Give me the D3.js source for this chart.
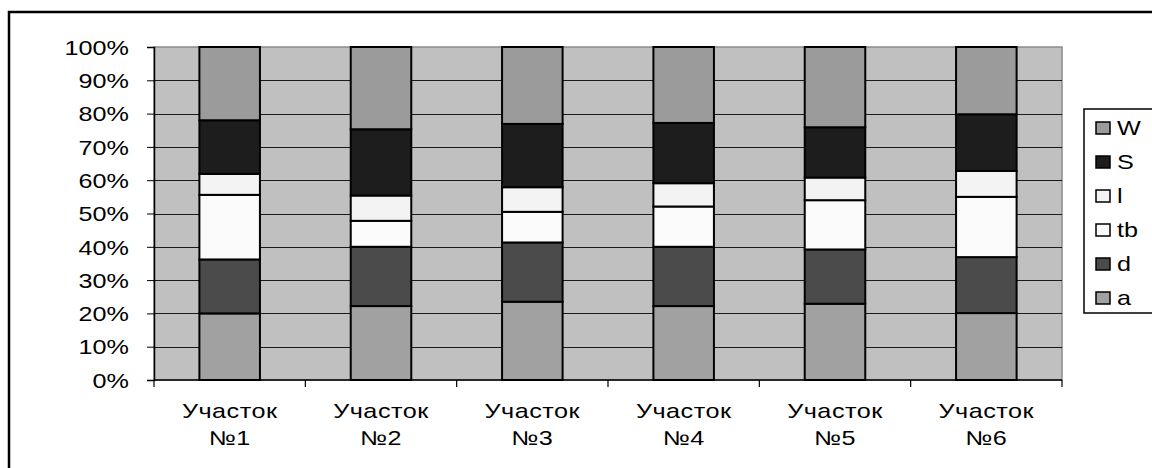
<!DOCTYPE html>
<html>
<head>
<meta charset="utf-8">
<title>Участки</title>
<style>
body { margin: 0; background: #fff; }
text { font-family: "Liberation Sans", Arial, sans-serif; fill: #000; }
</style>
<script type="text/javascript" src="https://d3js.org/d3.v7.min.js"></script>
</head>
<body>
<svg id="chart" width="1152" height="468"></svg>
<script type="text/javascript">
// data, in % of each bar
const sites = ["Участок\n№1", "Участок\n№2", "Участок\n№3", "Участок\n№4", "Участок\n№5", "Участок\n№6"];
const seriesNames = ["a", "d", "tb", "l", "S", "W"];
const a  = [20.0, 22.2, 23.5, 22.2, 22.9, 20.1];
const d  = [16.2, 17.8, 17.8, 17.8, 16.3, 16.8];
const tb = [19.4,  7.8,  9.2, 12.1, 14.8, 18.1];
const l  = [ 6.3,  7.6,  7.4,  7.0,  6.8,  7.8];
const S  = [16.1, 19.9, 19.0, 18.1, 15.1, 17.0];
const W  = [22.0, 24.7, 23.1, 22.8, 24.1, 20.2];
const yTicks = [0, 10, 20, 30, 40, 50, 60, 70, 80, 90, 100];

const colors = { a: "#a1a1a1", d: "#4b4b4b", tb: "#fbfbfb", l: "#f3f3f3", S: "#1d1d1d", W: "#9b9b9b" };
const SX = 1.26; // text in the picture is stretched sideways

const svg = d3.select("#chart");
const LEFT = 154, RIGHT = 1062, TOP = 47, BOTTOM = 380;

// outer frame
svg.append("rect").attr("x", 9).attr("y", 12).attr("width", 1160).attr("height", 480)
   .style("fill", "none").style("stroke", "#000").style("stroke-width", 2.5);

const table = sites.map((s, i) => ({ site: s, a: a[i], d: d[i], tb: tb[i], l: l[i], S: S[i], W: W[i] }));
const stacked = d3.stack().keys(seriesNames)(table);

const x = d3.scaleBand().domain(sites).range([LEFT, RIGHT]).padding(0);
const y = d3.scaleLinear().domain([0, 100]).range([BOTTOM, TOP]);
const barW = x.bandwidth() * 0.4;

// plot area
svg.append("rect").attr("x", LEFT).attr("y", TOP).attr("width", RIGHT - LEFT).attr("height", BOTTOM - TOP)
   .style("fill", "#c0c0c0").style("stroke", "#8a8a8a").style("stroke-width", 1.5);

svg.append("g").selectAll("line").data(yTicks.filter(t => t > 0 && t < 100)).join("line")
   .attr("x1", LEFT).attr("x2", RIGHT)
   .attr("y1", t => Math.round(y(t)) + 0.5).attr("y2", t => Math.round(y(t)) + 0.5)
   .style("stroke", "#1a1a1a").style("stroke-width", 1.1);

// bars
svg.append("g").selectAll("g").data(stacked).join("g")
   .style("fill", s => colors[s.key])
   .selectAll("rect").data(s => s).join("rect")
   .attr("x", p => x(p.data.site) + (x.bandwidth() - barW) / 2)
   .attr("width", barW)
   .attr("y", p => y(p[1]))
   .attr("height", p => y(p[0]) - y(p[1]))
   .style("stroke", "#000").style("stroke-width", 2);

// y axis
const yAxis = d3.axisLeft(y).tickValues(yTicks).tickSize(7).tickFormat(t => t + "%");
const gy = svg.append("g").attr("transform", `translate(${LEFT},0)`).call(yAxis);
gy.select(".domain").style("stroke", "#000").style("stroke-width", 1.5);
gy.selectAll(".tick line").style("stroke", "#000");
gy.selectAll(".tick text").remove();
gy.selectAll(".tick").append("g")
  .attr("transform", `translate(-25,0) scale(${SX},1)`)
  .append("text").attr("text-anchor", "end").attr("dy", "0.36em")
  .style("font-size", "20px").text(t => t + "%");

// x axis
const bounds = sites.map(s => x(s)).concat([RIGHT]);
svg.append("line").attr("x1", LEFT).attr("x2", RIGHT).attr("y1", BOTTOM).attr("y2", BOTTOM)
   .style("stroke", "#000").style("stroke-width", 1.5);
svg.append("g").selectAll("line").data(bounds).join("line")
   .attr("x1", b => b).attr("x2", b => b).attr("y1", BOTTOM).attr("y2", BOTTOM + 7)
   .style("stroke", "#000").style("stroke-width", 1.2);

const xl = svg.append("g").selectAll("g").data(sites).join("g")
   .attr("transform", s => `translate(${x(s) + x.bandwidth() / 2},0) scale(${SX},1)`);
xl.each(function(s) {
  const lines = s.split("\n");
  d3.select(this).selectAll("text").data(lines).join("text")
    .attr("x", 0).attr("y", (t, i) => 418 + i * 27)
    .attr("text-anchor", "middle").style("font-size", "20px")
    .style("letter-spacing", "0.4px").text(t => t);
});

// legend
svg.append("rect").attr("x", 1084).attr("y", 109).attr("width", 90).attr("height", 204)
   .style("fill", "#fff").style("stroke", "#000").style("stroke-width", 1.5);
const legendKeys = seriesNames.slice().reverse();
const lg = svg.append("g").selectAll("g").data(legendKeys).join("g")
   .attr("transform", (k, i) => `translate(1096,${128 + i * 34})`);
lg.append("rect").attr("x", 0).attr("y", -6).attr("width", 14).attr("height", 12)
   .style("fill", k => colors[k]).style("stroke", "#000").style("stroke-width", 1.5);
lg.append("g").attr("transform", `translate(21,0) scale(${SX},1)`)
   .append("text").attr("dy", "0.36em").style("font-size", "20px").text(k => k);
</script>
</body>
</html>
